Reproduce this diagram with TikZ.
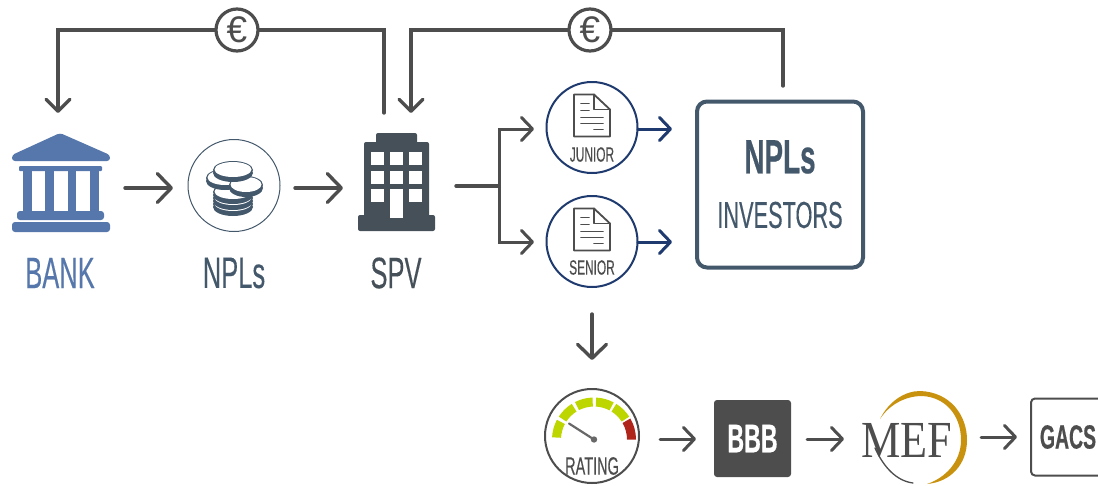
\documentclass[tikz,border=0pt]{standalone}
\usepackage{fontspec}
\usepackage{tikz}
\usetikzlibrary{arrows.meta, positioning}
\newfontfamily\bebas[FakeStretch=0.58, FakeBold=0.25]{Liberation Sans}
\newfontfamily\bebasbold[FakeStretch=0.58, FakeBold=0.4]{Liberation Sans Bold}
\newfontfamily\meffont[FakeStretch=0.85]{Liberation Serif}
\setmainfont{Liberation Sans}
\definecolor{lineGray}{HTML}{4D4D4D}
\definecolor{bankBlue}{HTML}{5577AB}
\definecolor{slate}{HTML}{43586B}
\definecolor{towerGray}{HTML}{465059}
\definecolor{navy}{HTML}{1F3A6E}
\definecolor{gaugeGreen}{HTML}{BED600}
\definecolor{gaugeRed}{HTML}{B0251A}
\definecolor{mefGold}{HTML}{C9920E}

\begin{document}
\begin{tikzpicture}[x=1pt, y=-1pt, auto, node distance=2cm, line cap=round]
        % Estilos
        \tikzstyle{bigarrow} = [draw=lineGray, line width=3.4pt, -{Straight Barb[length=14pt, width=29pt, round]}]
        \tikzstyle{toparrow} = [draw=lineGray, line width=3.4pt, line join=miter, -{Straight Barb[length=12pt, width=24pt, round]}]
        \tikzstyle{smallarrow} = [draw=lineGray, line width=3pt, -{Straight Barb[length=11pt, width=23pt, round]}]
        \tikzstyle{navyarrow} = [draw=navy, line width=3pt, -{Straight Barb[length=11pt, width=23pt, round]}]
        \tikzstyle{wire} = [draw=lineGray, line width=3.4pt, line join=miter]
        \tikzstyle{tag} = [inner sep=0pt, font=\bebas\fontsize{44}{44}\selectfont]
        \tikzstyle{smalltag} = [inner sep=0pt, text=lineGray, font=\bebas\fontsize{20.5}{20.5}\selectfont]
        \tikzstyle{euro} = [draw=lineGray, fill=white, circle, line width=3.2pt, minimum size=42pt, inner sep=0pt, text=lineGray, font=\fontsize{37}{37}\selectfont]
        \tikzstyle{tranche} = [draw=navy, fill=white, circle, line width=2pt, minimum size=91pt, inner sep=0pt]

        \clip (0,0) rectangle (1098,485);

        % Nodes
        \node at (234,185.5) [draw=slate, circle, line width=1pt, minimum size=92pt, inner sep=0pt] (npls){};
        \node at (60,273) [tag, text=bankBlue] (bankText) {BANK};
        \node [tag, text=slate, on grid, below=87.5pt of npls] (nplsText) {NPLs};
        \node at (396,273) [tag, text=towerGray] (spvText) {SPV};

        \node at (237,30) [euro] (euroLeft) {€};
        \node at (590,30) [euro] (euroRight) {€};
        \node at (58,30) [coordinate] (elbowBank){};
        \node [coordinate, on grid, below=83pt of elbowBank] (bankIn){};
        \node at (384,30) [coordinate] (elbowOut){};
        \node [coordinate, on grid, below=83pt of elbowOut] (spvOut){};
        \node at (411,30) [coordinate] (elbowSpv){};
        \node [coordinate, on grid, below=83pt of elbowSpv] (spvIn){};
        \node at (783,30) [coordinate] (elbowInv){};
        \node [coordinate, on grid, below=56pt of elbowInv] (invOut){};

        \node at (592,127.5) [tranche] (junior){};
        \node [tranche, on grid, below=114pt of junior] (senior){};
        \node [smalltag, on grid, below=27pt of junior] (juniorText) {JUNIOR};
        \node [smalltag, on grid, below=26pt of senior] (seniorText) {SENIOR};
        \node at (780,184.5) [draw=slate, rectangle, rounded corners=10pt, line width=4pt, minimum width=166pt, minimum height=166pt] (investors){};
        \node at (780,157) [inner sep=0pt, text=slate, font=\bebasbold\fontsize{48}{48}\selectfont] (investorsTop) {NPLs};
        \node [tag, text=slate, on grid, below=58pt of investorsTop, font=\bebas\fontsize{37.5}{37.5}\selectfont] (investorsText) {INVESTORS};

        \node at (499,186) [coordinate] (branch){};
        \node at (456,186) [coordinate] (branchIn){};
        \node at (499,129) [coordinate] (elbowJunior){};
        \node at (499,242) [coordinate] (elbowSenior){};
        \node at (534,129) [coordinate] (juniorIn){};
        \node at (534,242) [coordinate] (seniorIn){};
        \node at (672,129) [coordinate] (juniorEnd){};
        \node at (672,242) [coordinate] (seniorEnd){};

        \node at (592,436) [draw=lineGray, circle, line width=2pt, minimum size=94pt, inner sep=0pt] (rating){};
        \node [smalltag, on grid, below=30pt of rating, font=\bebas\fontsize{25}{25}\selectfont] (ratingText) {RATING};
        \node at (752.5,438.5) [fill=lineGray, rectangle, rounded corners=3pt, minimum width=77pt, minimum height=77pt, inner sep=0pt, text=white, font=\bebasbold\fontsize{40}{40}\selectfont] (bbb) {BBB};
        \node at (907,440) [inner sep=0pt, text=lineGray, font=\meffont\fontsize{52}{52}\selectfont] (mef) {MEF};
        \node at (1075,437) [draw=lineGray, rectangle, rounded corners=4pt, line width=2pt, minimum width=88pt, minimum height=77pt] (gacs){};
        \node at (1068,437) [inner sep=0pt, text=lineGray, font=\bebasbold\fontsize{33.5}{33.5}\selectfont] (gacsText) {GACS};

        % Banca
        \fill[bankBlue, rounded corners=3pt] (12,161) -- (12,155) -- (60,133) -- (110,155) -- (110,161) -- cycle;
        \fill[bankBlue, rounded corners=1pt] (19,166) rectangle (102,171);
        \foreach \xa/\xb in {23/32, 45/54, 68/76, 90/99}
            \fill[bankBlue] (\xa,170) rectangle (\xb,212);
        \fill[bankBlue, rounded corners=3pt] (17,211) rectangle (104,220);
        \fill[bankBlue, rounded corners=3pt] (12,222) rectangle (110,232);

        % Monete
        \foreach \cx/\cy/\rx in {233/204/20, 233/198/20, 233/192/20, 225/178/19, 246/185/17, 233/170/20} {
            \fill[slate] (\cx,\cy+3) ellipse [x radius=\rx pt, y radius=9pt];
            \fill[slate] (\cx,\cy) ellipse [x radius=\rx pt, y radius=9pt];
            \fill[white] (\cx,\cy-0.5) ellipse [x radius=\rx pt-1.5pt, y radius=7.5pt];
        }

        % Torre
        \fill[towerGray, rounded corners=2pt] (376,133) rectangle (417,146);
        \fill[towerGray, rounded corners=2pt] (364,142) rectangle (429,220);
        \fill[towerGray, rounded corners=2pt] (358,215) rectangle (435,231);
        \foreach \wy in {152,171,189}
            \foreach \wx in {371,390,409}
                \fill[white] (\wx,\wy) rectangle (\wx+13,\wy+13);
        \fill[white] (390,195) rectangle (403,218);

        % Documenti
        \foreach \doc in {junior, senior} {
            \begin{scope}[shift={(\doc)}, line width=1.8pt, draw=lineGray, line join=round]
                \draw (-18,-33) -- (2,-33) -- (18,-18) -- (18,9) -- (-18,9) -- cycle;
                \draw (2,-33) -- (2,-18) -- (18,-18);
                \draw (-11,-24) -- (-3,-24);
                \draw (-11,-17) -- (-3,-17);
                \draw (-11,-10) -- (11,-10);
                \draw (-11,-4) -- (11,-4);
                \draw (2,2) -- (11,2);
            \end{scope}
        }

        % Indicatore
        \begin{scope}[shift={(594,439.5)}]
            \foreach \a in {177,147,117,87,58}
                \fill[gaugeGreen] (\a:42pt) arc[start angle=\a, delta angle=-25, radius=42pt] -- (\a-25:33pt) arc[start angle=\a-25, delta angle=25, radius=33pt] -- cycle;
            \fill[gaugeRed] (30:42pt) arc[start angle=30, delta angle=-30, radius=42pt] -- (0:33pt) arc[start angle=0, delta angle=30, radius=33pt] -- cycle;
            \draw[line width=2.2pt, draw=lineGray!85] (0,0) -- (-25,-16);
            \fill[lineGray!85] (0,0) circle [radius=3.2pt];
        \end{scope}

        % Logo
        \fill[mefGold] (880,419) .. controls (889,401) and (905,391) .. (920,391)
            .. controls (950,392) and (967,415) .. (967,440)
            .. controls (967,465) and (950,482) .. (927,484)
            .. controls (945,478) and (961,462) .. (961,440)
            .. controls (961,415) and (945,397) .. (922,396)
            .. controls (905,396) and (889,405) .. (880,419) -- cycle;
        \draw[lineGray, line width=1.3pt] (875,448) .. controls (884,468) and (897,481) .. (913,483);

        % Lines
        \draw [bigarrow] (125,188) -- (173,188);
        \draw [bigarrow] (295,188) -- (343,188);
        \draw [wire] (spvOut) -- (elbowOut) -- (euroLeft);
        \draw [toparrow] (euroLeft) -- (elbowBank) -- (bankIn);
        \draw [wire] (invOut) -- (elbowInv) -- (euroRight);
        \draw [toparrow] (euroRight) -- (elbowSpv) -- (spvIn);
        \draw [wire] (branchIn) -- (branch);
        \draw [smallarrow, line join=miter] (branch) -- (elbowJunior) -- (juniorIn);
        \draw [smallarrow, line join=miter] (branch) -- (elbowSenior) -- (seniorIn);
        \draw [navyarrow] (junior) ++(46,1.5) -- (juniorEnd);
        \draw [navyarrow] (senior) ++(46,0.5) -- (seniorEnd);
        \draw [bigarrow] (592,314) -- (592,360);
        \draw [smallarrow] (660,439) -- (696,439);
        \draw [smallarrow] (807,439) -- (844,439);
        \draw [smallarrow] (981,437) -- (1017,437);
\end{tikzpicture}
\end{document}
